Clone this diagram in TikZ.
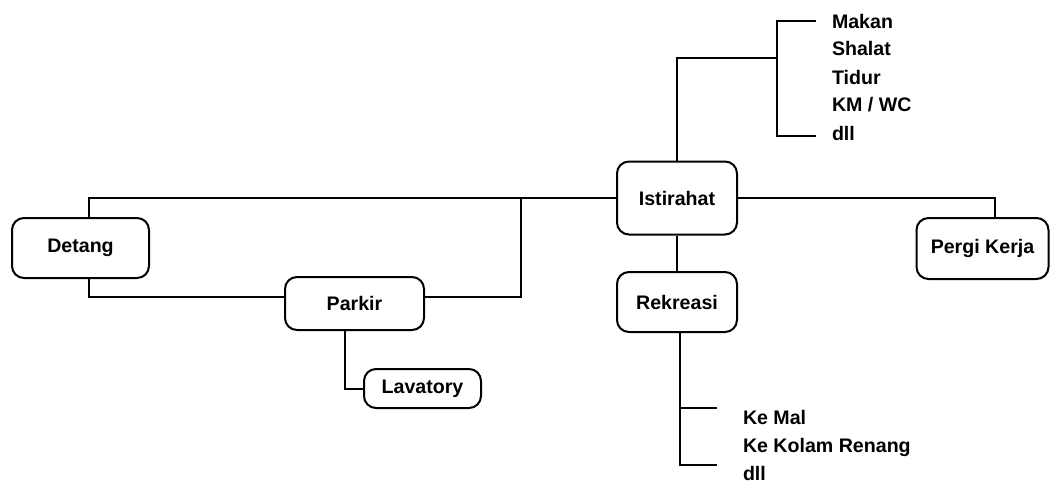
\documentclass[tikz,border=0pt]{standalone}
\usepackage{fontspec}
\setmainfont{Liberation Sans}
\begin{document}
\begin{tikzpicture}[x=0.5pt, y=-0.5pt, line width=1pt,
    kotak/.style={draw, rounded corners=6pt, align=center, inner sep=0pt},
    daftar/.style={anchor=west, inner sep=0pt, text height=7pt, text depth=0pt}]
          \fontsize{9.8}{12}\selectfont\bfseries
          \useasboundingbox (0,0) rectangle (1051,482);
          % main boxes
          \node[kotak, minimum width=68.5pt, minimum height=30pt] (detang) at (80.5,248) {Detang};
          \node[kotak, minimum width=60pt, minimum height=36.5pt] (istirahat) at (677,198) {Istirahat};
          \node[kotak, minimum width=66pt, minimum height=30.5pt] (pergi) at (982.5,248.5) {Pergi Kerja};
          \node[kotak, minimum width=69.5pt, minimum height=26.5pt] (parkir) at (354.5,303.5) {Parkir};
          \node[kotak, minimum width=60pt, minimum height=30pt] (rekreasi) at (677,302) {Rekreasi};
          \node[kotak, minimum width=58.5pt, minimum height=19.5pt] (lavatory) at (422.5,388.5) {Lavatory};

          % list above Istirahat
          \node[daftar] (makan) at (831,21) {Makan};
          \node[daftar] (shalat) at (831,48) {Shalat};
          \node[daftar] (tidur) at (831,77) {Tidur};
          \node[daftar] (kmwc) at (831,104) {KM / WC};
          \node[daftar] (dlla) at (831,133) {dll};
          % list below Rekreasi
          \node[daftar] (kemal) at (742,417) {Ke Mal};
          \node[daftar] (kolam) at (742,445) {Ke Kolam Renang};
          \node[daftar] (dllb) at (742,473) {dll};

          % junction points
          \coordinate (simpang) at (521,198);
          \coordinate (kurung) at (777,58);
          \coordinate (kurungatas) at (816,21);
          \coordinate (kurungbawah) at (816,136);
          \coordinate (rekatas) at (717,408);
          \coordinate (rekbawah) at (717,465);
          \coordinate (rekturun) at ([xshift=1.5pt]rekreasi.south);

          % connectors
          \draw (istirahat.west) -| ([xshift=4pt]detang.north);
          \draw ([xshift=4pt]detang.south) |- ([yshift=3.5pt]parkir.west);
          \draw ([yshift=3.5pt]parkir.east) -| (simpang);
          \draw (istirahat.east) -| ([xshift=6pt]pergi.north);
          \draw (istirahat.south) -- (rekreasi.north);
          \draw (istirahat.north) |- (kurung);
          \draw (kurungatas) -| (kurung) |- (kurungbawah);
          \draw (rekturun) |- (rekbawah);
          \draw (rekatas) -- (rekatas -| rekturun);
          \draw ([xshift=-5pt]parkir.south) |- (lavatory.west);
        \end{tikzpicture}
\end{document}
